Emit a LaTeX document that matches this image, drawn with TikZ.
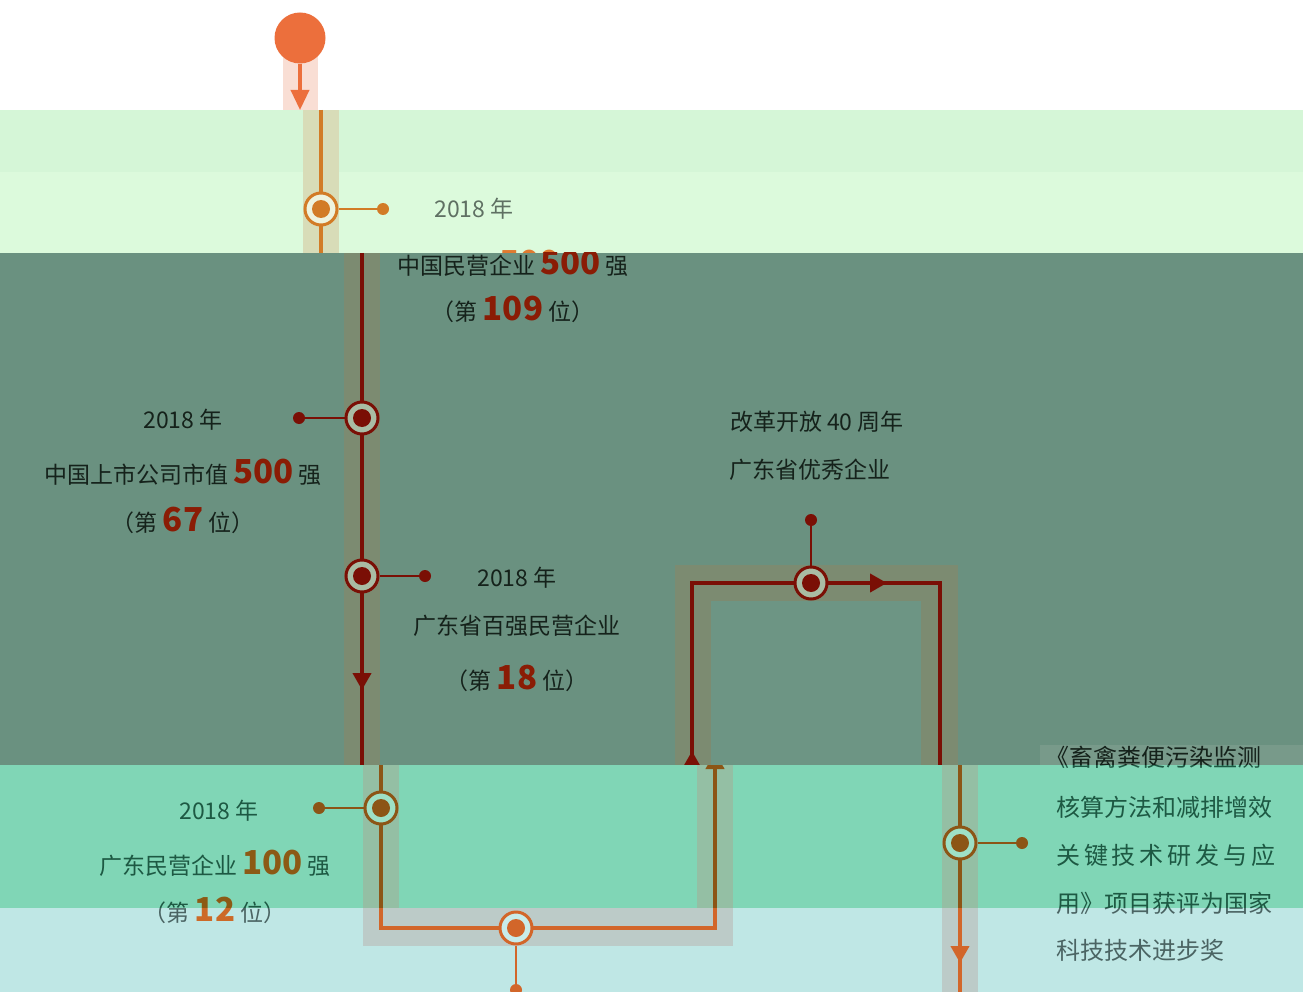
\documentclass[tikz,border=0pt]{standalone}
\usepackage{fontspec}
\setmainfont{Noto Sans CJK SC}
\usetikzlibrary{arrows.meta}
\definecolor{lineA}{HTML}{EC6F3C}
\definecolor{stripA}{HTML}{F9DED4}
\definecolor{bgB}{HTML}{DCFADC}
\definecolor{bgBt}{HTML}{D5F6D7}
\definecolor{stripB}{HTML}{D8DCB8}
\definecolor{lineB}{HTML}{D27B26}
\definecolor{ringB}{HTML}{EEF3DE}
\definecolor{txtB}{HTML}{5F7063}
\definecolor{numB}{HTML}{E07A30}
\definecolor{bgC}{HTML}{6A9180}
\definecolor{bgCin}{HTML}{6D9584}
\definecolor{stripC}{HTML}{7C8B71}
\definecolor{stripCr}{HTML}{789A8A}
\definecolor{lineC}{HTML}{7A0F05}
\definecolor{ringC}{HTML}{A9BCA4}
\definecolor{txtC}{HTML}{15221B}
\definecolor{numC}{HTML}{8A1C05}
\definecolor{bgD}{HTML}{80D6B6}
\definecolor{stripD}{HTML}{94BFA4}
\definecolor{lineD}{HTML}{8C5516}
\definecolor{ringD}{HTML}{9EE0C6}
\definecolor{txtD}{HTML}{1D5943}
\definecolor{numD}{HTML}{8C5A15}
\definecolor{bgE}{HTML}{BFE7E5}
\definecolor{stripE}{HTML}{BCCBC8}
\definecolor{lineE}{HTML}{D2662A}
\definecolor{ringE}{HTML}{C8ECEA}
\definecolor{txtE}{HTML}{4B6463}
\definecolor{numE}{HTML}{CC6A28}
\newcommand\bignum[2]{\textcolor{#1}{\fontsize{33}{36}\selectfont\bfseries #2}}
\tikzset{
  ring/.style={circle, minimum size=32pt, inner sep=0pt, line width=3pt},
  dotbig/.style={circle, minimum size=18pt, inner sep=0pt},
  dotend/.style={circle, minimum size=12pt, inner sep=0pt},
  mainline/.style={line width=4pt},
  conn/.style={line width=2.5pt},
  txt/.style={inner sep=0pt, font=\fontsize{23}{28}\selectfont},
  txtr/.style={inner sep=0pt, anchor=west, font=\fontsize{24}{28}\selectfont},
  arr/.style={-{Triangle[length=17pt,width=18pt]}},
}
\begin{document}
\begin{tikzpicture}[x=1pt,y=-1pt]
\useasboundingbox (0,0) rectangle (1303,992);
% ---------------- band A
\begin{scope}
\clip (0,0) rectangle (1303,110);
\fill[white] (0,0) rectangle (1303,110);
\fill[stripA] (283,55) rectangle (318,110);
\coordinate (a1) at (300,110);
\node[circle, fill=lineA, minimum size=51pt, inner sep=0pt] (start) at (300,38) {};
\draw[lineA, line width=3.5pt] (start) -- (300,95);
\draw[lineA, line width=3.5pt, -{Triangle[length=20pt,width=18pt]}] (300,85) -- (a1);
\end{scope}
% ---------------- band B
\begin{scope}
\clip (0,110) rectangle (1303,253);
\fill[bgB] (0,110) rectangle (1303,253);
\fill[bgBt] (0,110) rectangle (1303,172);
\fill[stripB] (303,110) rectangle (339,253);
\coordinate (b0) at (321,110);
\coordinate (b9) at (321,253);
\draw[lineB, line width=3.5pt] (b0) -- (b9);
\node[ring, draw=lineB, fill=ringB] (b1) at (321,209) {};
\node[dotbig, fill=lineB] at (b1) {};
\node[dotend, fill=lineB] (b1d) at (383,209) {};
\draw[lineB, conn] (b1) -- (b1d);
\node[txt, text=txtB] (b1t) at (474,209) {2018 年};
\node[txt, text=txtB] (b1u) at (472,263) {中国民营企业 \bignum{numB}{500} 强};
\end{scope}
% ---------------- band C
\begin{scope}
\clip (0,253) rectangle (1303,765);
\fill[bgC] (0,253) rectangle (1303,765);
\fill[stripCr] (1040,745) rectangle (1303,765);
\fill[stripC] (344,253) rectangle (380,765);
\fill[stripC] (675,565) rectangle (958,765);
\fill[bgCin] (711,601) rectangle (921,765);
\coordinate (m0) at (362,253);
\coordinate (m9) at (362,765);
\draw[lineC, mainline] (m0) -- (m9);
\coordinate (l0) at (692,765);
\coordinate (l1) at (692,583);
\coordinate (l2) at (940,583);
\coordinate (l3) at (940,765);
\draw[lineC, mainline] (l0) -- (l1) -- (l2) -- (l3);
\draw[lineC, mainline, arr] (362,660) -- (362,690);
\draw[lineC, mainline, arr] (692,775) -- (692,751);
\draw[lineC, mainline, arr] (860,583) -- (887,583);
% nodes
\node[ring, draw=lineC, fill=ringC] (c1) at (362,418) {};
\node[dotbig, fill=lineC] at (c1) {};
\node[dotend, fill=lineC] (c1d) at (299,418) {};
\draw[lineC, conn] (c1) -- (c1d);
\node[ring, draw=lineC, fill=ringC] (c2) at (362,576) {};
\node[dotbig, fill=lineC] at (c2) {};
\node[dotend, fill=lineC] (c2d) at (425,576) {};
\draw[lineC, conn] (c2) -- (c2d);
\node[ring, draw=lineC, fill=ringC] (c3) at (811,583) {};
\node[dotbig, fill=lineC] at (c3) {};
\node[dotend, fill=lineC] (c3d) at (811,520) {};
\draw[lineC, conn] (c3) -- (c3d);
% texts
\node[txt, text=txtC] (t1a) at (513,263) {中国民营企业 \bignum{numC}{500} 强};
\node[txt, text=txtC] (t1b) at (513,309) {（第 \bignum{numC}{109} 位）};
\node[txt, text=txtC] (t2a) at (183,420) {2018 年};
\node[txt, text=txtC] (t2b) at (183,472) {中国上市公司市值 \bignum{numC}{500} 强};
\node[txt, text=txtC] (t2c) at (183,520) {（第 \bignum{numC}{67} 位）};
\node[txt, text=txtC] (t3a) at (517,578) {2018 年};
\node[txt, text=txtC] (t3b) at (517,626) {广东省百强民营企业};
\node[txt, text=txtC] (t3c) at (517,678) {（第 \bignum{numC}{18} 位）};
\node[txt, text=txtC] (t4a) at (817,422) {改革开放 40 周年};
\node[txt, text=txtC] (t4b) at (810,470) {广东省优秀企业};
\node[txtr, text=txtC] (t5a) at (1045,757) {《畜禽粪便污染监测};
\end{scope}
% ---------------- band D
\begin{scope}
\clip (0,765) rectangle (1303,908);
\fill[bgD] (0,765) rectangle (1303,908);
\fill[stripD] (363,765) rectangle (399,908);
\fill[stripD] (697,765) rectangle (733,908);
\fill[stripD] (942,765) rectangle (978,908);
\coordinate (n0) at (381,765);
\coordinate (n9) at (381,908);
\coordinate (u0) at (715,765);
\coordinate (u9) at (715,908);
\coordinate (r0) at (960,765);
\coordinate (r9) at (960,908);
\draw[lineD, mainline] (n0) -- (n9);
\draw[lineD, mainline] (u0) -- (u9);
\draw[lineD, mainline] (r0) -- (r9);
\draw[lineD, mainline, arr] (715,790) -- (715,752);
\node[ring, draw=lineD, fill=ringD] (d1) at (381,808) {};
\node[dotbig, fill=lineD] at (d1) {};
\node[dotend, fill=lineD] (d1d) at (319,808) {};
\draw[lineD, conn] (d1) -- (d1d);
\node[ring, draw=lineD, fill=ringD] (d2) at (960,843) {};
\node[dotbig, fill=lineD] at (d2) {};
\node[dotend, fill=lineD] (d2d) at (1022,843) {};
\draw[lineD, conn] (d2) -- (d2d);
\node[txt, text=txtD] (s1a) at (219,811) {2018 年};
\node[txt, text=txtD] (s1b) at (215,863) {广东民营企业 \bignum{numD}{100} 强};
\node[txt, text=txtD] (s1c) at (215,910) {（第 \bignum{numD}{12} 位）};
\node[txtr, text=txtD] (t5a2) at (1045,757) {《畜禽粪便污染监测};
\node[txtr, text=txtD] (t5b) at (1056,807) {核算方法和减排增效};
\node[txtr, text=txtD] (t5c) at (1056,855) {\hbox to 219pt{关\hfill 键\hfill 技\hfill 术\hfill 研\hfill 发\hfill 与\hfill 应}};
\node[txtr, text=txtD] (t5d) at (1056,903) {用》项目获评为国家};
\end{scope}
% ---------------- band E
\begin{scope}
\clip (0,908) rectangle (1303,992);
\fill[bgE] (0,908) rectangle (1303,992);
\fill[stripE] (363,908) rectangle (733,946);
\fill[stripE] (942,908) rectangle (978,992);
\coordinate (e0) at (381,908);
\coordinate (e1) at (381,928);
\coordinate (e2) at (715,928);
\coordinate (e3) at (715,908);
\coordinate (f0) at (960,908);
\coordinate (f9) at (960,992);
\draw[lineE, mainline] (e0) -- (e1) -- (e2) -- (e3);
\draw[lineE, mainline] (f0) -- (f9);
\draw[lineE, mainline, arr] (960,935) -- (960,963);
\node[ring, draw=lineE, fill=ringE] (g1) at (516,928) {};
\node[dotbig, fill=lineE] at (g1) {};
\node[dotend, fill=lineE] (g1d) at (516,990) {};
\draw[lineE, conn] (g1) -- (g1d);
\node[txt, text=txtE] (s1c2) at (215,910) {（第 \bignum{numE}{12} 位）};
\node[txtr, text=txtE] (t5d2) at (1056,903) {用》项目获评为国家};
\node[txtr, text=txtE] (t5e) at (1056,950) {科技技术进步奖};
\end{scope}
\end{tikzpicture}
\end{document}
